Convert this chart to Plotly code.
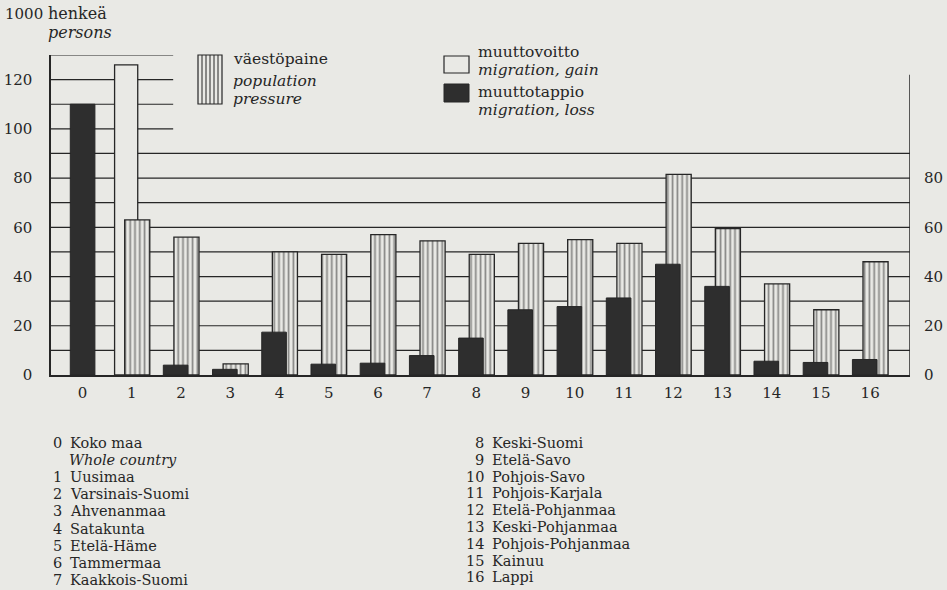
import plotly.graph_objects as go

# ---------------- data ----------------
categories = list(range(17))
tick_labels = [str(i) for i in categories]
loss = [110, None, 4, 2.3, 17.4, 4.4, 4.8, 7.9, 15, 26.5, 27.8, 31.3, 45, 36, 5.6, 5.1, 6.3]
gain = [None, 126, None, None, None, None, None, None, None, None, None, None, None, None, None, None, None]
pressure = [None, 63, 56, 4.5, 50, 49, 57, 54.5, 49, 53.5, 55, 53.5, 81.5, 59.5, 37, 26.5, 46]
left_ticks = [0, 20, 40, 60, 80, 100, 120]
right_ticks = [0, 20, 40, 60, 80]
regions_left = ["0 Koko maa", "Whole country", "1 Uusimaa", "2 Varsinais-Suomi", "3 Ahvenanmaa",
                "4 Satakunta", "5 Etelä-Häme", "6 Tammermaa", "7 Kaakkois-Suomi"]
regions_right_num = ["8", "9", "10", "11", "12", "13", "14", "15", "16"]
regions_right_name = ["Keski-Suomi", "Etelä-Savo", "Pohjois-Savo", "Pohjois-Karjala", "Etelä-Pohjanmaa",
                      "Keski-Pohjanmaa", "Pohjois-Pohjanmaa", "Kainuu", "Lappi"]

# ---------------- style ----------------
W, H = 947, 590
L, R, T, B = 51, 37, 55, 215
BG = "#e9e9e5"
INK = "#262626"
DARK = "#2e2e2e"
FONT = "DejaVu Serif"
XMIN, XMAX = -0.642, 16.81
YMAX = 130

def px(x):
    return (x - L) / (W - L - R)

def py(y):
    return (H - B - y) / (H - T - B)

fig = go.Figure()

fig.add_trace(go.Bar(x=categories, y=gain, width=0.47, offset=-0.35,
                     marker=dict(color=BG, line=dict(color=INK, width=1.3)),
                     showlegend=False, hoverinfo="skip"))
fig.add_trace(go.Bar(x=categories, y=pressure, width=0.51, offset=-0.145,
                     marker=dict(color=BG, line=dict(color=INK, width=1.3),
                                 pattern=dict(shape="|", size=4.8, solidity=0.36,
                                              fgcolor=INK, bgcolor=BG, fillmode="overlay")),
                     showlegend=False, hoverinfo="skip"))
dark_offsets = [-0.25] + [-0.36] * 16
fig.add_trace(go.Bar(x=categories, y=loss, width=0.5, offset=dark_offsets,
                     marker=dict(color=DARK, line=dict(color=INK, width=1)),
                     showlegend=False, hoverinfo="skip"))
fig.add_trace(go.Scatter(x=[0], y=[0], yaxis="y2", mode="markers",
                         marker=dict(opacity=0), showlegend=False, hoverinfo="skip"))

shapes = []
for g in range(10, 100, 10):
    shapes.append(dict(type="line", xref="x", yref="y", x0=XMIN, x1=XMAX, y0=g, y1=g,
                       line=dict(color=INK, width=1.2), layer="below"))
for g in range(100, 131, 10):
    shapes.append(dict(type="line", xref="x", yref="y", x0=XMIN, x1=1.84, y0=g, y1=g,
                       line=dict(color=INK, width=1.2), layer="below"))
shapes.append(dict(type="line", xref="x", yref="y", x0=XMAX, x1=XMAX, y0=0, y1=122,
                   line=dict(color=INK, width=1.5)))
hx0, hx1, hy0, hy1 = 198, 222, 55, 104
shapes.append(dict(type="rect", xref="paper", yref="paper", x0=px(hx0), x1=px(hx1),
                   y0=py(hy1), y1=py(hy0), line=dict(color=INK, width=1.2), fillcolor=BG))
for i in range(1, 6):
    xx = hx0 + i * (hx1 - hx0) / 6
    shapes.append(dict(type="line", xref="paper", yref="paper", x0=px(xx), x1=px(xx),
                       y0=py(hy1), y1=py(hy0), line=dict(color=INK, width=1)))
shapes.append(dict(type="rect", xref="paper", yref="paper", x0=px(444), x1=px(469),
                   y0=py(73), y1=py(56), line=dict(color=INK, width=1.2), fillcolor=BG))
shapes.append(dict(type="rect", xref="paper", yref="paper", x0=px(444), x1=px(469),
                   y0=py(102), y1=py(84), line=dict(color=INK, width=1), fillcolor=DARK))

ann = []
def text(t, x, y, size=16, italic=False, anchor="left"):
    ann.append(dict(text=t, xref="paper", yref="paper", x=px(x), y=py(y), showarrow=False,
                    xanchor=anchor, yanchor="middle", borderpad=0,
                    font=dict(family=FONT, size=size, color=INK,
                              style="italic" if italic else "normal")))

text("1000", 4, 14, size=15)
text("henkeä", 47, 14)
text("persons", 47, 32, italic=True)
text("väestöpaine", 232, 59, size=15.5)
text("population", 232, 81, size=15.5, italic=True)
text("pressure", 232, 99, size=15.5, italic=True)
text("muuttovoitto", 477, 52, size=15.5)
text("migration, gain", 477, 70, size=15.5, italic=True)
text("muuttotappio", 477, 92, size=15.5)
text("migration, loss", 477, 110, size=15.5, italic=True)

row_y0, row_dy = 443, 17.1
for i, t in enumerate(regions_left):
    y = row_y0 + i * row_dy
    if i == 1:
        text(t, 68, y, size=14.5, italic=True)
    else:
        num, name = t.split(" ", 1)
        text(num, 63, y, size=14.5, anchor="right")
        text(name, 69, y, size=14.5)
for i, (n, t) in enumerate(zip(regions_right_num, regions_right_name)):
    y = 443 + i * 16.8
    text(n, 485, y, size=14.5, anchor="right")
    text(t, 491, y, size=14.5)

fig.update_layout(
    width=W, height=H, margin=dict(l=L, r=R, t=T, b=B, autoexpand=False),
    paper_bgcolor=BG, plot_bgcolor=BG, barmode="overlay",
    font=dict(family=FONT, size=15, color=INK),
    shapes=shapes, annotations=ann,
    xaxis=dict(range=[XMIN, XMAX], showgrid=False, zeroline=False, showline=True,
               linecolor=INK, linewidth=1.6, tickvals=categories, ticktext=tick_labels,
               ticks="", ticklabelstandoff=3, tickfont=dict(size=15), automargin=False),
    yaxis=dict(range=[0, YMAX], showgrid=False, zeroline=False, showline=True,
               linecolor=INK, linewidth=1.6, tickvals=left_ticks, ticks="",
               ticklabelstandoff=14, tickfont=dict(size=15), automargin=False),
    yaxis2=dict(range=[0, YMAX], overlaying="y", side="right", showgrid=False,
                zeroline=False, showline=False, tickvals=right_ticks, ticks="",
                ticklabelstandoff=13, tickfont=dict(size=15), automargin=False),
)

fig.write_html("out.html", config={"displayModeBar": False, "staticPlot": True},
               post_script="document.body.style.margin='0';document.body.style.background='%s';" % BG)
